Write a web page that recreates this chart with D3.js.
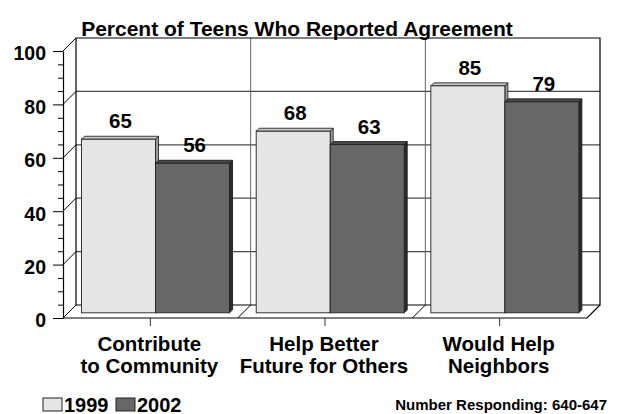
<!DOCTYPE html>
<html>
<head>
<meta charset="utf-8">
<script src="https://cdn.jsdelivr.net/npm/d3@7"></script>
<style>
  html, body { margin: 0; padding: 0; background: #fff; }
  svg { display: block; }
  text { font-family: "Liberation Sans", Arial, Helvetica, sans-serif; font-weight: bold; fill: #000; }
</style>
</head>
<body>
<svg id="chart" width="620" height="414"></svg>
<script>
// ---- data ----
const categories = ["Contribute to Community", "Help Better Future for Others", "Would Help Neighbors"];
const categoryLines = [["Contribute", "to Community"], ["Help Better", "Future for Others"], ["Would Help", "Neighbors"]];
const series = ["1999", "2002"];
const values1999 = [65, 68, 85];
const values2002 = [56, 63, 79];
const yTickValues = [0, 20, 40, 60, 80, 100];
const yMinorValues = [5, 10, 15, 25, 30, 35, 45, 50, 55, 65, 70, 75, 85, 90, 95];
const titleText = "Percent of Teens Who Reported Agreement";
const noteText = "Number Responding:  640-647";

// ---- layout ----
const frontLeft = 63, frontRight = 587, frontBottom = 318, frontTop = 51;
const depth = 13;          // 3D wall depth (px right and up)
const barShift = 5.2;      // bar plane position inside the depth
const barDepth = 3;        // thickness of bars

const svg = d3.select("#chart");

const y = d3.scaleLinear().domain([0, 100]).range([frontBottom, frontTop]);
const x0 = d3.scaleBand().domain(categories).range([frontLeft, frontRight]).padding(0);
const x1 = d3.scaleBand().domain(series).range([0, x0.bandwidth()]).paddingInner(0).paddingOuter(0.18);

const colors = {
  "1999": { front: "#e5e5e5", top: "#c8c8c8", side: "#9c9c9c" },
  "2002": { front: "#676767", top: "#4a4a4a", side: "#2c2c2c" }
};

const backLeft = frontLeft + depth, backRight = frontRight + depth;
const yb = v => y(v) - depth;

// ---- back wall gridlines ----
const grid = svg.append("g");
grid.selectAll("line.h").data(yTickValues.filter(v => v > 0 && v < 100)).join("line")
  .attr("x1", backLeft).attr("x2", backRight)
  .attr("y1", d => yb(d)).attr("y2", d => yb(d))
  .attr("stroke", "#4a4a4a").attr("stroke-width", 1.2);

// vertical dividers on back wall
const dividers = categories.slice(1).map(c => x0(c));
grid.selectAll("line.v").data(dividers).join("line")
  .attr("x1", d => d + depth).attr("x2", d => d + depth)
  .attr("y1", yb(100)).attr("y2", yb(0))
  .attr("stroke", "#666").attr("stroke-width", 1);
// floor dividers
grid.selectAll("line.fd").data(dividers).join("line")
  .attr("x1", d => d + depth).attr("y1", yb(0))
  .attr("x2", d => d).attr("y2", y(0))
  .attr("stroke", "#000").attr("stroke-width", 1);

// left wall diagonals
grid.selectAll("line.diag").data(yTickValues).join("line")
  .attr("x1", frontLeft).attr("y1", d => y(d))
  .attr("x2", backLeft).attr("y2", d => yb(d))
  .attr("stroke", "#000").attr("stroke-width", 1);

// back wall frame
grid.append("path")
  .attr("d", `M${backLeft},${yb(0)}V${yb(100)}H${backRight}V${yb(0)}H${backLeft}`)
  .attr("fill", "none").attr("stroke", "#000").attr("stroke-width", 1.2);

// floor front edge
grid.append("path")
  .attr("d", `M${frontLeft},${y(0)}H${frontRight}L${backRight},${yb(0)}`)
  .attr("fill", "none").attr("stroke", "#000").attr("stroke-width", 1.2);

// ---- bars ----
const barData = [];
categories.forEach((c, i) => {
  barData.push({ cat: c, s: "1999", v: values1999[i] });
  barData.push({ cat: c, s: "2002", v: values2002[i] });
});

const bars = svg.append("g").selectAll("g.bar").data(barData).join("g").attr("class", "bar");
bars.each(function(d) {
  const g = d3.select(this);
  const bx = x0(d.cat) + x1(d.s) + barShift;
  const bw = x1.bandwidth();
  const ty = y(d.v) - barShift;
  const by = y(0) - barShift;
  const c = colors[d.s];
  // side face
  g.append("path")
    .attr("d", `M${bx + bw},${ty}L${bx + bw + barDepth},${ty - barDepth}L${bx + bw + barDepth},${by - barDepth}L${bx + bw},${by}Z`)
    .attr("fill", c.side).attr("stroke", "#111").attr("stroke-width", 0.8);
  // top face
  g.append("path")
    .attr("d", `M${bx},${ty}L${bx + barDepth},${ty - barDepth}L${bx + bw + barDepth},${ty - barDepth}L${bx + bw},${ty}Z`)
    .attr("fill", c.top).attr("stroke", "#111").attr("stroke-width", 0.8);
  // front
  g.append("rect")
    .attr("x", bx).attr("y", ty).attr("width", bw).attr("height", by - ty)
    .attr("fill", c.front).attr("stroke", "#222").attr("stroke-width", 0.9);
  // value label
  g.append("text")
    .attr("x", bx + bw / 2 + 2).attr("y", ty - 11)
    .attr("text-anchor", "middle").attr("font-size", 20.5)
    .text(d.v);
});

// ---- y axis ----
const minorAxis = d3.axisLeft(y).tickValues(yMinorValues).tickSize(5).tickSizeOuter(0).tickFormat("");
const gMinor = svg.append("g").attr("transform", `translate(${frontLeft},0)`).call(minorAxis);
gMinor.select(".domain").remove();
gMinor.selectAll("line").attr("stroke", "#000");

const majorAxis = d3.axisLeft(y).tickValues(yTickValues).tickSize(10).tickSizeOuter(0).tickPadding(7);
const gMajor = svg.append("g").attr("transform", `translate(${frontLeft},0)`).call(majorAxis);
gMajor.select(".domain").attr("stroke", "#000").attr("stroke-width", 1.2);
gMajor.selectAll("line").attr("stroke", "#000");
gMajor.selectAll("text")
  .attr("font-size", 19.5).attr("font-family", "Liberation Sans, Arial, sans-serif")
  .attr("font-weight", "bold").attr("fill", "#000").attr("dy", "0.46em");

// ---- category ticks and labels ----
const xAxis = d3.axisBottom(x0).tickSize(8).tickSizeOuter(0).tickFormat("");
const gx = svg.append("g").attr("transform", `translate(0,${frontBottom})`).call(xAxis);
gx.select(".domain").remove();
gx.selectAll("line").attr("stroke", "#333");

const catLabels = svg.append("g").selectAll("text").data(categories).join("text")
  .attr("text-anchor", "middle").attr("font-size", 20.5)
  .attr("x", d => x0(d) + x0.bandwidth() / 2).attr("y", 350.5);
catLabels.each(function(d, i) {
  const t = d3.select(this);
  categoryLines[i].forEach((line, j) => {
    t.append("tspan").attr("x", x0(d) + x0.bandwidth() / 2 - 1).attr("dy", j === 0 ? 0 : 22.8).text(line);
  });
});

// ---- title ----
svg.append("text").attr("x", 297).attr("y", 35.5).attr("text-anchor", "middle")
  .attr("font-size", 21).text(titleText);

// ---- legend ----
const legend = svg.append("g").attr("transform", "translate(43,398)");
const legItems = legend.selectAll("g").data(series).join("g")
  .attr("transform", (d, i) => `translate(${i * 73},0)`);
legItems.append("rect").attr("width", 19).attr("height", 13)
  .attr("fill", d => colors[d].front).attr("stroke", "#222").attr("stroke-width", 1);
legItems.append("text").attr("x", 21).attr("y", 13.5).attr("font-size", 20).text(d => d);

// ---- note ----
svg.append("text").attr("x", 607).attr("y", 410).attr("text-anchor", "end")
  .attr("font-size", 15).text(noteText);
</script>
</body>
</html>
